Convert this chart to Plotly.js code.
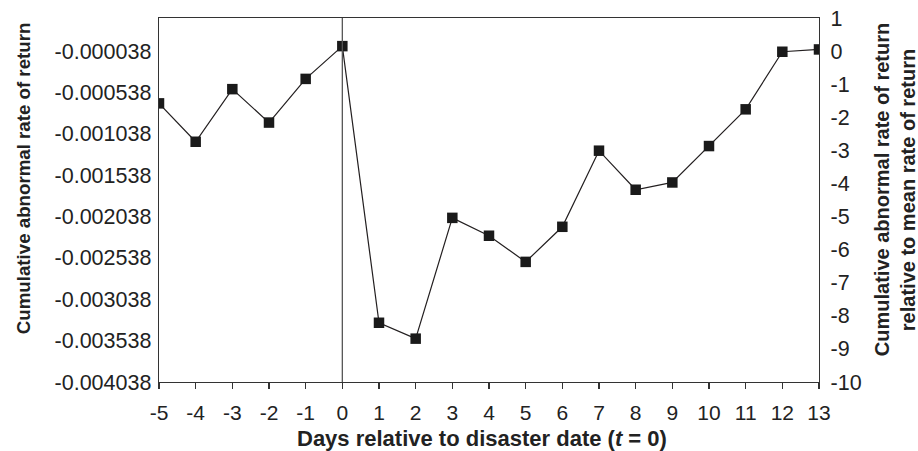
<!DOCTYPE html>
<html>
<head>
<meta charset="utf-8">
<script src="https://cdn.plot.ly/plotly-3.0.1.min.js"></script>
<style>html,body{margin:0;padding:0;background:#fff;}#chart{width:918px;height:451px;}</style>
</head>
<body>
<div id="chart"></div>
<script>
// Days relative to disaster date
const days = [-5,-4,-3,-2,-1,0,1,2,3,4,5,6,7,8,9,10,11,12,13];
const dayLabels = ["-5","-4","-3","-2","-1","0","1","2","3","4","5","6","7","8","9","10","11","12","13"];
// Cumulative abnormal rate of return (left axis)
const car = [-0.000670,-0.001134,-0.000498,-0.000902,-0.000374,0.000022,-0.003322,-0.003514,-0.002054,-0.002270,-0.002586,-0.002162,-0.001242,-0.001714,-0.001626,-0.001186,-0.000742,-0.000046,-0.000018];
// Left axis tick labels
const leftTickVals = [-0.004038,-0.003538,-0.003038,-0.002538,-0.002038,-0.001538,-0.001038,-0.000538,-0.000038];
const leftTickText = ["-0.004038","-0.003538","-0.003038","-0.002538","-0.002038","-0.001538","-0.001038","-0.000538","-0.000038"];
// Right axis ticks
const rightTickVals = [-10,-9,-8,-7,-6,-5,-4,-3,-2,-1,0,1];
const rightTickText = ["-10","-9","-8","-7","-6","-5","-4","-3","-2","-1","0","1"];
const xTitle = "Days relative to disaster date (<i>t</i> = 0)";
const leftTitle = "Cumulative abnormal rate of return";
const rightTitle1 = "Cumulative abnormal rate of return";
const rightTitle2 = "relative to mean rate of return";

const FONT = "Liberation Sans, Arial, sans-serif";
const AX = "#333333";
const TXT = "#222222";

const trace = {
  x: days, y: car, type: "scatter", mode: "lines+markers",
  line: {color: "#231f20", width: 1.2},
  marker: {symbol: "square", size: 10.5, color: "#1a1a1a"},
  xaxis: "x", yaxis: "y", hoverinfo: "skip"
};
// empty trace so the right-hand axis is drawn
const rightAxisHolder = {x: [], y: [], type: "scatter", mode: "lines", xaxis: "x", yaxis: "y2", hoverinfo: "skip"};

const layout = {
  width: 918, height: 451,
  margin: {l: 159, r: 99, t: 18, b: 69, pad: 0},
  paper_bgcolor: "#fff", plot_bgcolor: "#fff",
  showlegend: false,
  font: {family: FONT, color: TXT, size: 21},
  xaxis: {
    range: [-5, 13], tickmode: "array", tickvals: days, ticktext: dayLabels,
    showgrid: false, zeroline: false,
    showline: true, linecolor: AX, linewidth: 1.3, mirror: true,
    ticks: "outside", ticklen: 6, tickcolor: AX, tickwidth: 1.3,
    ticklabelstandoff: 5,
    tickfont: {family: FONT, size: 21, color: TXT}
  },
  yaxis: {
    range: [-0.004038, 0.000362], tickmode: "array",
    tickvals: leftTickVals, ticktext: leftTickText,
    showgrid: false, zeroline: false,
    showline: true, linecolor: AX, linewidth: 1.3,
    ticks: "", ticklabelstandoff: 2,
    tickfont: {family: FONT, size: 21.5, color: TXT}
  },
  yaxis2: {
    range: [-10, 1], overlaying: "y", side: "right", anchor: "x",
    tickmode: "array", tickvals: rightTickVals, ticktext: rightTickText,
    showgrid: false, zeroline: false,
    showline: true, linecolor: AX, linewidth: 1.3,
    ticks: "", ticklabelstandoff: 6,
    tickfont: {family: FONT, size: 21.5, color: TXT}
  },
  shapes: [{
    type: "line", xref: "x", yref: "paper", x0: 0, x1: 0, y0: 0, y1: 1,
    line: {color: "#555", width: 1.3}
  }],
  annotations: [
    {text: xTitle, xref: "paper", yref: "paper", x: 0.49, y: 0, yshift: -56,
     xanchor: "center", yanchor: "middle", showarrow: false,
     font: {family: FONT, size: 22, color: TXT, weight: "bold"}},
    {text: leftTitle, xref: "paper", yref: "paper", x: 0, xshift: -136, y: 0.56,
     xanchor: "center", yanchor: "middle", textangle: -90, showarrow: false,
     font: {family: FONT, size: 18.7, color: TXT, weight: "bold"}},
    {text: rightTitle1, xref: "paper", yref: "paper", x: 1, xshift: 63, y: 0.527,
     xanchor: "center", yanchor: "middle", textangle: -90, showarrow: false,
     font: {family: FONT, size: 20, color: TXT, weight: "bold"}},
    {text: rightTitle2, xref: "paper", yref: "paper", x: 1, xshift: 89, y: 0.527,
     xanchor: "center", yanchor: "middle", textangle: -90, showarrow: false,
     font: {family: FONT, size: 20, color: TXT, weight: "bold"}}
  ]
};

Plotly.newPlot("chart", [trace, rightAxisHolder], layout, {staticPlot: true, displayModeBar: false});
</script>
</body>
</html>
